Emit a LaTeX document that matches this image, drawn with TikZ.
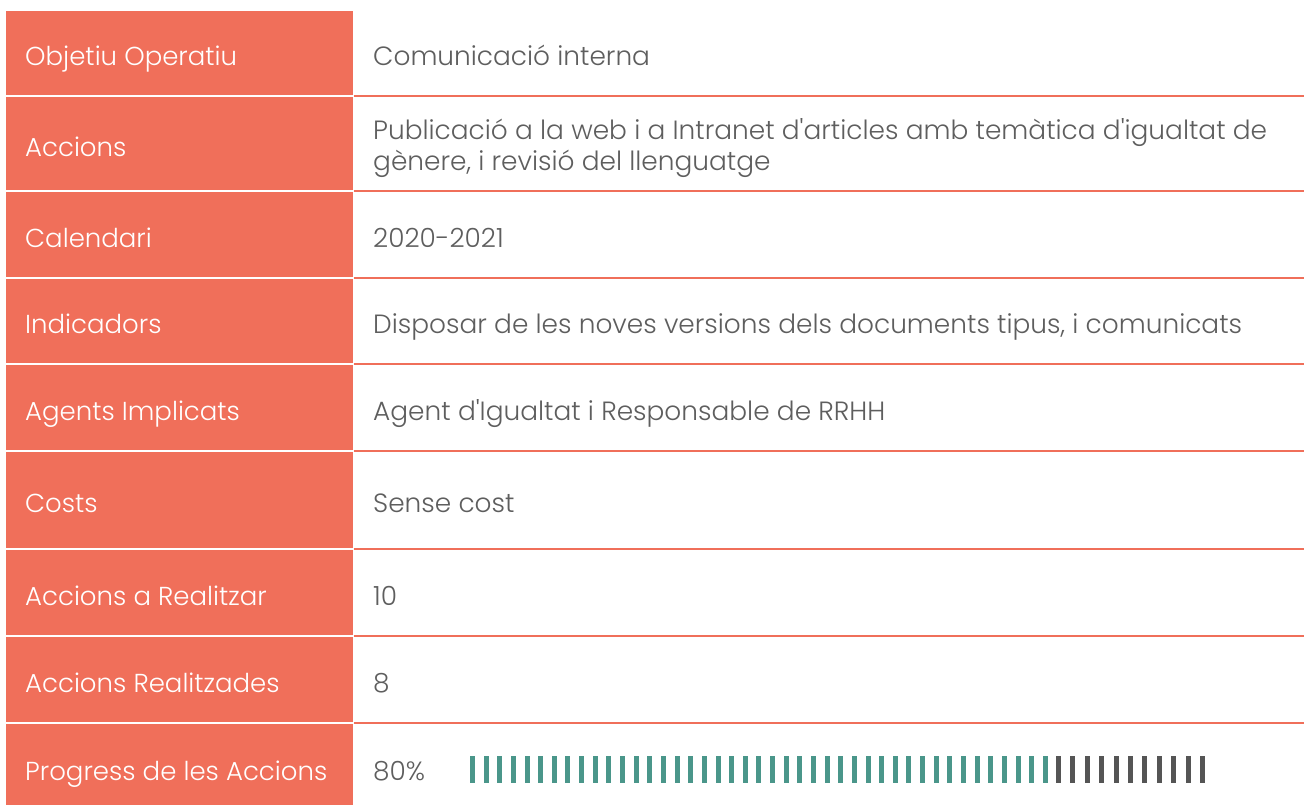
\documentclass[tikz,border=0pt]{standalone}
\usepackage{fontspec}
\setmainfont{Poppins}[UprightFont=* Light, Ligatures=TeXOff]
\definecolor{salmon}{HTML}{F06F5A}
\definecolor{txtgray}{HTML}{5E5E5E}
\definecolor{teal}{HTML}{4A968A}
\definecolor{darkbar}{HTML}{555555}
\tikzset{
  lcell/.style={fill=salmon, draw=none, anchor=north west, minimum width=347pt, inner sep=0pt},
  ltext/.style={anchor=base west, inner sep=0pt, text=white, font=\fontsize{26}{31}\selectfont},
  rtext/.style={anchor=base west, inner sep=0pt, text=txtgray, font=\fontsize{26.4}{31}\selectfont, align=left},
  sep/.style={draw=salmon, line width=1.5pt},
  tealbar/.style={fill=teal},
  darkbarst/.style={fill=darkbar}
}
\begin{document}
\begin{tikzpicture}[x=1pt,y=-1pt]
\useasboundingbox (0,0) rectangle (1305,804);
\fill[white] (0,0) rectangle (1305,804);
% left column cells
\def\rows{10/96/1/Objetiu Operatiu,96/191/2/Accions,191/278/3/Calendari,278/364/4/Indicadors,364/451/5/Agents Implicats,451/549/6/Costs,549/636/7/Accions a Realitzar,636/723/8/Accions Realitzades,723/813/9/Progress de les Accions}
\foreach \ya/\yb/\i/\lab in \rows {
  \pgfmathsetmacro{\h}{\yb-\ya-1.5}
  \node[lcell, minimum height=\h pt] (l\i) at (6,\ya+0.75) {};
  \node[ltext] (lt\i) at (25,{(\ya+\yb)/2+12.5}) {\lab};
}
% separators in right column
\foreach \y/\i in {96/1,191/2,278/3,364/4,451/5,549/6,636/7,723/8} {
  \coordinate (sa\i) at (354,\y);
  \coordinate (sb\i) at (1304,\y);
  \draw[sep] (sa\i) -- (sb\i);
}
% right column texts
\node[rtext] (r1) at (373,65.5) {Comunicació interna};
\node[rtext] (r2a) at (373,139.3) {Publicació a la web i a Intranet d'articles amb temàtica d'igualtat de};
\node[rtext] (r2b) at (373,170.5) {gènere, i revisió del llenguatge};
\node[rtext] (r3) at (373,247) {2020-2021};
\node[rtext] (r4) at (373,333.5) {Disposar de les noves versions dels documents tipus, i comunicats};
\node[rtext] (r5) at (373,420) {Agent d'Igualtat i Responsable de RRHH};
\node[rtext] (r6) at (373,512.5) {Sense cost};
\node[rtext] (r7) at (373,605) {10};
\node[rtext] (r8) at (373,692) {8};
\node[rtext] (r9) at (373,780) {80\%};
% progress bars
\foreach \k in {0,...,42} {
  \fill[tealbar] (470+\k*13.64,756) rectangle ++(5,27);
}
\foreach \k in {0,...,10} {
  \fill[darkbarst] (1056+\k*14.4,756) rectangle ++(5,27);
}
\end{tikzpicture}
\end{document}
